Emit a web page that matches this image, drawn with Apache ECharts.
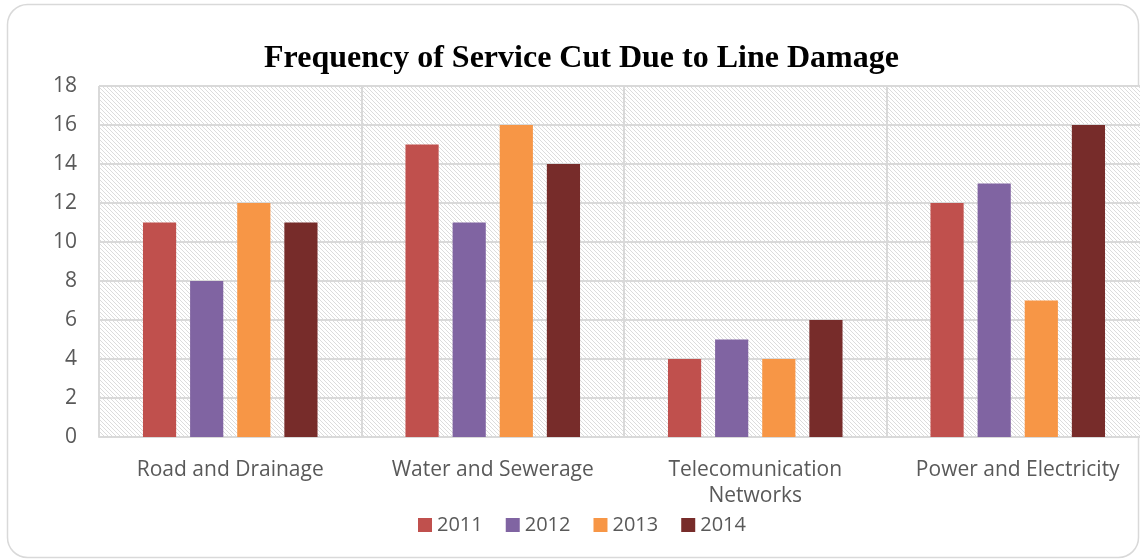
<!DOCTYPE html>
<html>
<head>
<meta charset="utf-8">
<script src="https://cdn.jsdelivr.net/npm/echarts@6/dist/echarts.min.js"></script>
<style>
html,body{margin:0;padding:0;background:#fff;}
#c{width:1140px;height:560px;}
</style>
</head>
<body>
<div id="c"></div>
<script>
const categories = ['Road and Drainage', 'Water and Sewerage', 'Telecomunication\nNetworks', 'Power and Electricity'];
const seriesNames = ['2011', '2012', '2013', '2014'];
const v2011 = [11, 15, 4, 12];
const v2012 = [8, 11, 5, 13];
const v2013 = [12, 16, 4, 7];
const v2014 = [11, 14, 6, 16];
const seriesValues = [v2011, v2012, v2013, v2014];
const colors = ['#C0504D', '#8064A2', '#F79646', '#772C2A'];
const titleText = 'Frequency of Service Cut Due to Line Damage';

// hatch pattern
const pc = document.createElement('canvas');
pc.width = 4; pc.height = 4;
const pctx = pc.getContext('2d');
pctx.fillStyle = '#ffffff';
pctx.fillRect(0, 0, 4, 4);
pctx.fillStyle = '#dcdcdc';
for (let i = 0; i < 4; i++) pctx.fillRect(i, i, 1, 1);

const chart = echarts.init(document.getElementById('c'), null, {renderer: 'canvas'});
const font = 'Open Sans';
chart.setOption({
  animation: false,
  backgroundColor: '#ffffff',
  graphic: [{
    type: 'rect',
    shape: {x: 7.5, y: 4.5, width: 1131, height: 553, r: 20},
    style: {fill: 'none', stroke: '#d9d9d9', lineWidth: 1.5},
    z: -1
  }],
  title: {
    text: titleText,
    left: 259,
    top: 38,
    textStyle: {fontFamily: 'Liberation Serif', fontWeight: 'bold', fontSize: 32, color: '#000'}
  },
  legend: {
    top: 515,
    padding: 0,
    left: 418,
    itemWidth: 14,
    itemHeight: 14,
    itemGap: 23,
    icon: 'rect',
    textStyle: {fontFamily: font, fontSize: 20, color: '#595959'},
    data: seriesNames
  },
  grid: {
    left: 99, width: 1050, top: 86, bottom: 123,
    outerBoundsMode: 'none',
    containLabel: false,
    show: true,
    borderWidth: 0,
    backgroundColor: {image: pc, repeat: 'repeat'}
  },
  xAxis: {
    type: 'category',
    data: categories,
    axisTick: {show: false},
    axisLine: {show: true, lineStyle: {color: '#d9d9d9', width: 2}},
    splitLine: {show: true, interval: 0, lineStyle: {color: '#d9d9d9', width: 2}},
    axisLabel: {fontFamily: font, fontSize: 21, color: '#595959', margin: 20, lineHeight: 26, interval: 0}
  },
  yAxis: {
    type: 'value',
    min: 0, max: 18, interval: 2,
    axisLine: {show: false},
    axisTick: {show: false},
    splitLine: {show: true, lineStyle: {color: '#d9d9d9', width: 2}},
    axisLabel: {fontFamily: font, fontSize: 21, color: '#595959', margin: 22}
  },
  series: seriesNames.map((n, i) => ({
    name: n,
    type: 'bar',
    data: seriesValues[i],
    barGap: '42%',
    barCategoryGap: '33.5%',
    itemStyle: {color: colors[i]}
  }))
});
</script>
</body>
</html>
